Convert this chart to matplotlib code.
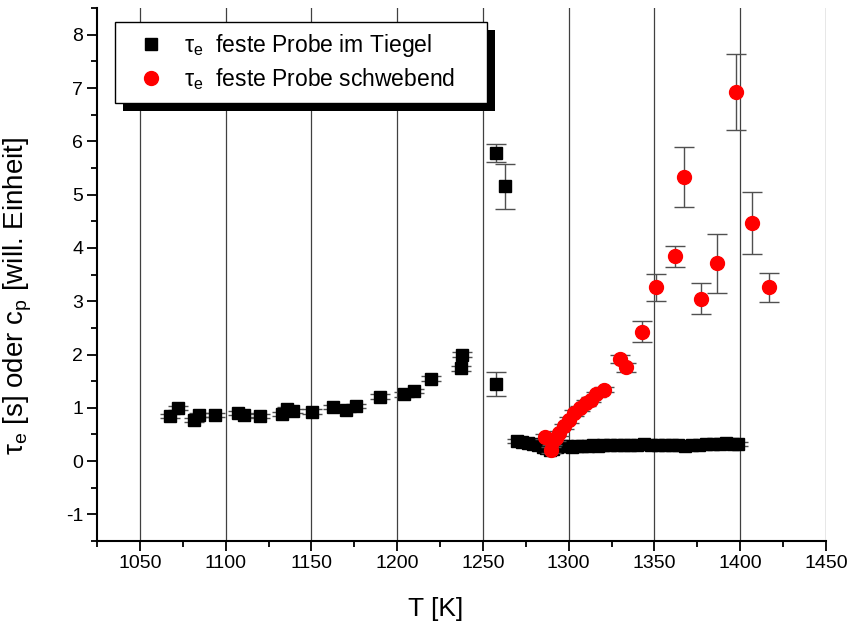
import matplotlib
matplotlib.use("Agg")
import matplotlib.pyplot as plt
import numpy as np
from matplotlib.ticker import MultipleLocator
from matplotlib.lines import Line2D
from matplotlib.patches import Rectangle

plt.rcParams['font.family'] = ['Liberation Sans', 'DejaVu Sans']
plt.rcParams['mathtext.fontset'] = 'custom'
plt.rcParams['mathtext.rm'] = 'Liberation Sans'
plt.rcParams['mathtext.it'] = 'Liberation Sans'
plt.rcParams['axes.unicode_minus'] = False

# Probe im Tiegel (schwarze Quadrate)
T_tiegel = [1067.5, 1072, 1081.5, 1084.5, 1094, 1107.5, 1110.5, 1120, 1133, 1136, 1139,
            1150.5, 1162.5, 1170, 1176, 1190, 1204, 1210, 1220, 1237, 1238,
            1257.5, 1257.5, 1263,
            1270, 1273, 1276, 1279, 1282, 1285, 1287, 1289, 1291, 1293, 1296, 1299,
            1302, 1305, 1308, 1311, 1314, 1317, 1320, 1324, 1328, 1332, 1336, 1340,
            1344, 1348, 1352, 1356, 1360, 1364, 1368, 1372, 1376, 1380, 1384, 1388,
            1392, 1396, 1399]
tau_tiegel = [0.85, 0.99, 0.77, 0.87, 0.87, 0.90, 0.87, 0.84, 0.89, 0.98, 0.94,
              0.93, 1.02, 0.96, 1.04, 1.21, 1.25, 1.31, 1.55, 1.74, 2.00,
              1.45, 5.79, 5.16,
              0.38, 0.36, 0.34, 0.33, 0.30, 0.27, 0.24, 0.20, 0.22, 0.26, 0.28, 0.29,
              0.27, 0.28, 0.29, 0.28, 0.30, 0.29, 0.30, 0.30, 0.31, 0.30, 0.31, 0.31,
              0.32, 0.31, 0.31, 0.30, 0.31, 0.30, 0.29, 0.30, 0.31, 0.33, 0.32, 0.32,
              0.34, 0.33, 0.32]
err_tiegel = [0.04] * 21 + [0.23, 0.17, 0.42] + [0.04] * 39

# schwebende Probe (rote Kreise)
T_schwebend = [1286, 1289.5, 1290.5, 1292.5, 1294.5, 1297.5, 1300, 1303, 1306.5, 1310,
               1313, 1316, 1320.5, 1330, 1333.5, 1342.5, 1351, 1362, 1367, 1377,
               1386.5, 1397.5, 1407, 1417]
tau_schwebend = [0.46, 0.21, 0.36, 0.43, 0.52, 0.65, 0.77, 0.90, 0.99, 1.09,
                 1.15, 1.25, 1.34, 1.92, 1.76, 2.43, 3.26, 3.84, 5.33, 3.05,
                 3.71, 6.93, 4.47, 3.26]
err_schwebend = [0.05, 0.05, 0.05, 0.05, 0.05, 0.05, 0.05, 0.05, 0.05, 0.05,
                 0.05, 0.05, 0.05, 0.08, 0.08, 0.2, 0.26, 0.19, 0.57, 0.29,
                 0.55, 0.71, 0.58, 0.27]

label_tiegel = r'$\mathregular{\tau_e}$  feste Probe im Tiegel'
label_schwebend = r'$\mathregular{\tau_e}$  feste Probe schwebend'

fig = plt.figure(figsize=(8.53, 6.28), dpi=100)
ax = fig.add_axes([0.1137, 0.1385, 0.8546, 0.8485])

ax.errorbar(T_tiegel, tau_tiegel, yerr=err_tiegel, fmt='s', color='black',
            markersize=8.5, ecolor='#505050', elinewidth=1.0, capsize=7.5,
            capthick=1.0, zorder=3)
ax.errorbar(T_schwebend, tau_schwebend, yerr=err_schwebend, fmt='o', color='#ff0000',
            markersize=10, ecolor='#505050', elinewidth=1.0, capsize=7.5,
            capthick=1.0, zorder=4)

ax.set_xlim(1025, 1450)
ax.set_ylim(-1.5, 8.5)
ax.xaxis.set_major_locator(MultipleLocator(50))
ax.xaxis.set_minor_locator(MultipleLocator(25))
ax.yaxis.set_major_locator(MultipleLocator(1))
ax.yaxis.set_minor_locator(MultipleLocator(0.5))

ax.grid(True, axis='x', which='major', color='#404040', linewidth=0.9)
ax.set_axisbelow(True)

for side in ['top', 'right']:
    ax.spines[side].set_visible(False)
for side in ['left', 'bottom']:
    ax.spines[side].set_linewidth(1.5)

ax.tick_params(which='major', direction='out', length=7, width=1.3, labelsize=14, pad=3)
ax.tick_params(which='minor', direction='out', length=4, width=1.3)

ax.set_xlabel('T [K]', fontsize=19)
ax.xaxis.set_label_coords(0.464, -0.105)
ax.set_ylabel(r'$\mathregular{\tau_e}$ [s] oder c$\mathregular{_p}$ [will. Einheit]',
              fontsize=20)
ax.yaxis.set_label_coords(-0.086, 0.461)

# Legende nur mit Markern, schwarzer Schatten rechts unten
handles = [Line2D([], [], linestyle='none', marker='s', color='black', markersize=8.5),
           Line2D([], [], linestyle='none', marker='o', color='#ff0000', markersize=10)]
leg = ax.legend(handles, [label_tiegel, label_schwebend],
                loc='upper left', bbox_to_anchor=(0.0247, 0.0, 0.510, 0.9737),
                mode='expand', fontsize=16.5,
                frameon=True, fancybox=False, borderpad=0.45, handletextpad=0.35,
                labelspacing=0.3, borderaxespad=0.0, handlelength=2.2)
leg.get_frame().set_edgecolor('black')
leg.get_frame().set_linewidth(1.0)
leg.get_frame().set_alpha(1)
leg.set_zorder(6)

fig.canvas.draw()
bb = leg.get_window_extent()
shadow = Rectangle((bb.x0 + 8, bb.y0 - 8), bb.width, bb.height, transform=None,
                   facecolor='black', edgecolor='none', zorder=5.5, clip_on=False)
ax.add_artist(shadow)

fig.savefig('out.png', dpi=100)
